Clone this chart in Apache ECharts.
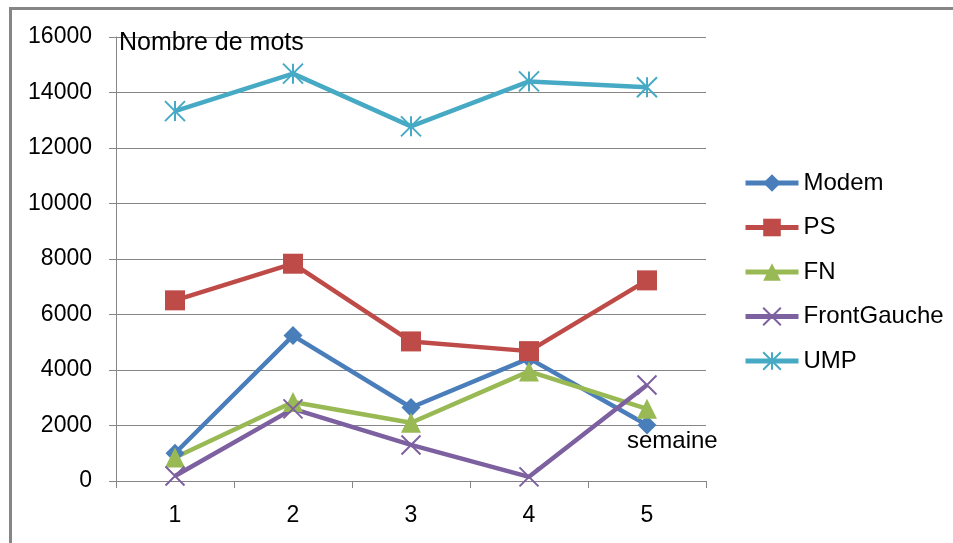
<!DOCTYPE html>
<html>
<head>
<meta charset="utf-8">
<script src="https://cdn.jsdelivr.net/npm/echarts@6/dist/echarts.min.js"></script>
<style>
html,body{margin:0;padding:0;background:#fff;}
#chart{width:953px;height:543px;}
</style>
</head>
<body>
<div id="chart"></div>
<script>
const weeks = ['1', '2', '3', '4', '5'];
const modem = [1000, 5240, 2650, 4420, 2020];
const ps = [6510, 7830, 5030, 4680, 7230];
const fn = [850, 2850, 2100, 3950, 2600];
const frontGauche = [180, 2600, 1300, 150, 3460];
const ump = [13330, 14680, 12780, 14400, 14190];
const seriesNames = ['Modem', 'PS', 'FN', 'FrontGauche', 'UMP'];
const colors = ['#4a7ebb', '#be4b48', '#98b954', '#7d60a0', '#46aac5'];

const FONT = 'Liberation Sans';
const xPath = 'path://M0,0L10,10M10,0L0,10';
const starPath = 'path://M0,0L10,10M10,0L0,10M5,0L5,10';

function mk(name, data, color, symbol, size, stroke) {
  return {
    name: name,
    type: 'line',
    data: data,
    symbol: symbol,
    symbolSize: size,
    lineStyle: { color: color, width: 4.5 },
    itemStyle: { color: color, borderColor: color, borderWidth: stroke },
    emphasis: { disabled: true },
    z: 3
  };
}

const chart = echarts.init(document.getElementById('chart'), null, { renderer: 'canvas' });
chart.setOption({
  animation: false,
  backgroundColor: '#ffffff',
  color: colors,
  grid: { left: 116, top: 37, right: 247, bottom: 62, containLabel: false },
  legend: {
    orient: 'vertical',
    left: 743,
    top: 171,
    padding: 0,
    itemWidth: 53,
    itemHeight: 22,
    itemGap: 20.5,
    data: seriesNames,
    lineStyle: { width: 5 },
    textStyle: { fontFamily: FONT, fontSize: 24, color: '#000', lineHeight: 24 },
    selectedMode: false
  },
  xAxis: {
    type: 'category',
    data: weeks,
    boundaryGap: true,
    axisLine: { show: true, lineStyle: { color: '#868686', width: 1 } },
    axisTick: { show: true, length: 7, alignWithLabel: false, lineStyle: { color: '#868686' } },
    axisLabel: { fontFamily: FONT, fontSize: 23, color: '#000', margin: 23 },
    splitLine: { show: false }
  },
  yAxis: {
    type: 'value',
    min: 0,
    max: 16000,
    interval: 2000,
    axisLine: { show: true, lineStyle: { color: '#868686', width: 1 } },
    axisTick: { show: true, length: 7, lineStyle: { color: '#868686' } },
    axisLabel: { fontFamily: FONT, fontSize: 23, color: '#000', margin: 24, formatter: function (v) { return String(v); } },
    splitLine: { show: true, lineStyle: { color: '#868686', width: 1 } }
  },
  graphic: [
    { type: 'line', shape: { x1: 9, y1: 8.5, x2: 953, y2: 8.5 }, style: { stroke: '#868686', lineWidth: 3 } },
    { type: 'line', shape: { x1: 10.5, y1: 7, x2: 10.5, y2: 543 }, style: { stroke: '#868686', lineWidth: 3 } },
    { type: 'text', left: 119, top: 31, style: { text: 'Nombre de mots', fontFamily: FONT, fontSize: 25, fill: '#000' }, z: 10 },
    { type: 'text', left: 627, top: 429, style: { text: 'semaine', fontFamily: FONT, fontSize: 24, fill: '#000' }, z: 10 }
  ],
  series: [
    mk('Modem', modem, colors[0], 'diamond', 19, 0),
    mk('PS', ps, colors[1], 'rect', 20, 0),
    mk('FN', fn, colors[2], 'triangle', 20, 0),
    mk('FrontGauche', frontGauche, colors[3], xPath, 19, 2),
    mk('UMP', ump, colors[4], starPath, 20, 2)
  ]
});
</script>
</body>
</html>
